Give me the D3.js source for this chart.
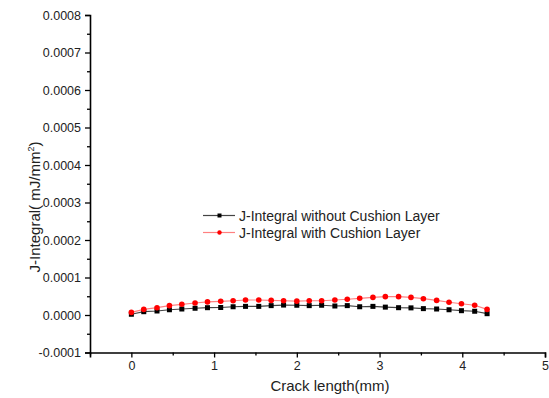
<!DOCTYPE html>
<html>
<head>
<meta charset="utf-8">
<script src="https://cdn.jsdelivr.net/npm/d3@7"></script>
<style>
  html, body { margin: 0; padding: 0; background: #fff; }
  svg { display: block; font-family: "Liberation Sans", Arial, sans-serif; }
</style>
</head>
<body>
<svg id="chart" width="549" height="398"></svg>
<script>
// Crack length positions (mm)
const crackLength = [0, 0.15, 0.31, 0.46, 0.61, 0.77, 0.92, 1.08, 1.23, 1.38,
  1.54, 1.69, 1.84, 2.00, 2.15, 2.30, 2.46, 2.61, 2.76, 2.92,
  3.07, 3.23, 3.38, 3.53, 3.69, 3.84, 3.99, 4.15, 4.30];

// J-Integral (mJ/mm^2) without cushion layer
const jWithout = [0.000002, 0.0000088, 0.0000107, 0.000014, 0.000016, 0.000018, 0.0000195, 0.00002, 0.000022, 0.000023,
  0.000023, 0.000025, 0.0000265, 0.000026, 0.000025, 0.000026, 0.000024, 0.000025, 0.000022, 0.000023,
  0.000021, 0.0000195, 0.000019, 0.000017, 0.000016, 0.000014, 0.0000115, 0.00001, 0.0000035];

// J-Integral (mJ/mm^2) with cushion layer
const jWith = [0.000007, 0.000015, 0.0000195, 0.000025, 0.0000285, 0.000032, 0.000035, 0.0000365, 0.000038, 0.00004,
  0.00004, 0.000039, 0.000038, 0.000037, 0.000038, 0.000038, 0.00004, 0.000042, 0.0000445, 0.000047,
  0.000049, 0.000049, 0.000047, 0.0000435, 0.000039, 0.000034, 0.00003, 0.000026, 0.000015];

const xTicks = [0, 1, 2, 3, 4, 5];
const yTicks = [-0.0001, 0, 0.0001, 0.0002, 0.0003, 0.0004, 0.0005, 0.0006, 0.0007, 0.0008];
const seriesNames = ["J-Integral without Cushion Layer", "J-Integral with Cushion Layer"];

const svg = d3.select("#chart");
const plotLeft = 90, plotRight = 545, plotTop = 15, plotBottom = 352.5;

const x = d3.scaleLinear().domain([-0.5, 5]).range([plotLeft, plotRight]);
const y = d3.scaleLinear().domain([-0.0001, 0.0008]).range([plotBottom, plotTop]);

// Minor ticks at half steps
const xMinor = [-0.5, 0.5, 1.5, 2.5, 3.5, 4.5];
const yMinor = [-0.00005, 0.00005, 0.00015, 0.00025, 0.00035, 0.00045, 0.00055, 0.00065, 0.00075];

const fmtY = v => d3.format(".4f")(v).replace("\u2212", "-");

const axisG = svg.append("g");

// X axis
const gx = axisG.append("g").attr("transform", `translate(0,${plotBottom})`);
gx.call(d3.axisBottom(x).tickValues(xTicks).tickSize(5).tickPadding(4).tickFormat(d3.format("d")));
gx.append("g").call(d3.axisBottom(x).tickValues(xMinor).tickSize(3).tickFormat(""))
  .select(".domain").remove();

// Y axis
const gy = axisG.append("g").attr("transform", `translate(${plotLeft},0)`);
gy.call(d3.axisLeft(y).tickValues(yTicks).tickSize(5).tickPadding(4).tickFormat(fmtY));
gy.append("g").call(d3.axisLeft(y).tickValues(yMinor).tickSize(3).tickFormat(""))
  .select(".domain").remove();

axisG.selectAll(".domain").attr("stroke", "#000").attr("stroke-width", 1.6);
axisG.selectAll(".tick line").attr("stroke", "#000").attr("stroke-width", 1.3);
axisG.selectAll(".tick text").attr("fill", "#222").style("font-size", "12.5px")
  .style("font-family", "'Liberation Sans', Arial, sans-serif");

// Axis titles
svg.append("text")
  .attr("x", 330).attr("y", 391)
  .attr("text-anchor", "middle")
  .attr("fill", "#222")
  .style("font-size", "15px")
  .text("Crack length(mm)");

const yTitle = svg.append("text")
  .attr("transform", `translate(40,207) rotate(-90)`)
  .attr("text-anchor", "middle")
  .attr("fill", "#222")
  .style("font-size", "15px");
yTitle.append("tspan").text("J-Integral( mJ/mm");
yTitle.append("tspan").attr("dy", -6).style("font-size", "9px").text("2");
yTitle.append("tspan").attr("dy", 6).text(")");

// Series
const line = d3.line().x(d => x(d[0])).y(d => y(d[1]));
const blackData = crackLength.map((c, i) => [c, jWithout[i]]);
const redData = crackLength.map((c, i) => [c, jWith[i]]);

svg.append("path").datum(blackData).attr("d", line)
  .attr("fill", "none").attr("stroke", "#444").attr("stroke-width", 1.2);
svg.append("path").datum(redData).attr("d", line)
  .attr("fill", "none").attr("stroke", "#ff8080").attr("stroke-width", 1.2);

svg.append("g").selectAll("rect").data(blackData).join("rect")
  .attr("x", d => x(d[0]) - 2.5).attr("y", d => y(d[1]) - 2.5)
  .attr("width", 5).attr("height", 5).attr("fill", "#000");

svg.append("g").selectAll("circle").data(redData).join("circle")
  .attr("cx", d => x(d[0])).attr("cy", d => y(d[1])).attr("r", 2.8)
  .attr("fill", "#f00");

// Legend
const legend = svg.append("g");
const legendRows = [
  { name: seriesNames[0], line: "#444", fill: "#000", shape: "square", y: 215.5 },
  { name: seriesNames[1], line: "#ff8080", fill: "#f00", shape: "circle", y: 232.5 }
];
legendRows.forEach(r => {
  legend.append("line").attr("x1", 203).attr("x2", 235).attr("y1", r.y).attr("y2", r.y)
    .attr("stroke", r.line).attr("stroke-width", 1.2);
  if (r.shape === "square") {
    legend.append("rect").attr("x", 217.5).attr("y", r.y - 2).attr("width", 4).attr("height", 4).attr("fill", r.fill);
  } else {
    legend.append("circle").attr("cx", 219.5).attr("cy", r.y).attr("r", 2.2).attr("fill", r.fill);
  }
  legend.append("text").attr("x", 239).attr("y", r.y + 5)
    .attr("fill", "#222").style("font-size", "14px").text(r.name);
});
</script>
</body>
</html>
